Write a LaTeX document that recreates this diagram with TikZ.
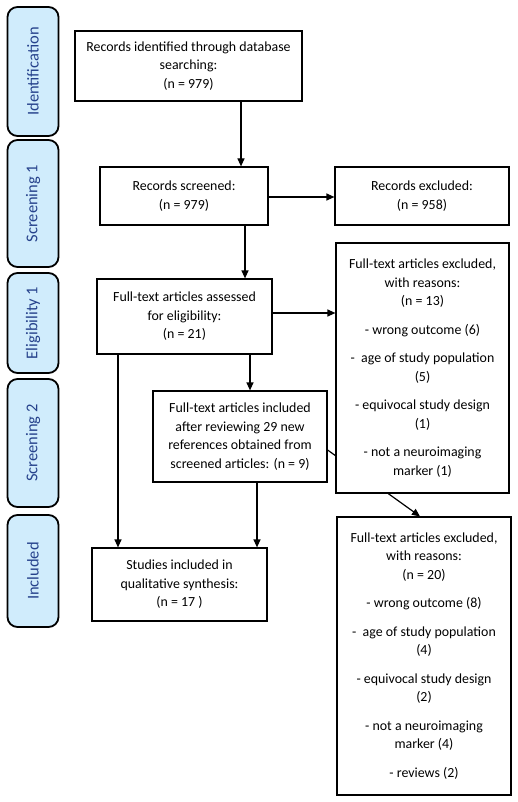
\documentclass[tikz,border=0pt]{standalone}
\usepackage{fontspec}
\setmainfont{Carlito}
\usetikzlibrary{arrows.meta}
\definecolor{lblfill}{RGB}{208,236,252}
\definecolor{lbltext}{RGB}{38,66,140}
\tikzset{
  box/.style={draw=black, line width=1.2pt, fill=white, inner sep=0pt, align=center,
    font=\fontsize{13.9}{18.5}\selectfont},
  stage/.style={draw=black, line width=1.8pt, fill=lblfill, rounded corners=10pt, rotate=90,
    minimum height=51pt, inner sep=0pt, text=lbltext, font=\fontsize{16.5}{19}\selectfont},
  arr/.style={line width=1.2pt, -{Triangle[length=8pt,width=7pt]}},
}
\begin{document}
\begin{tikzpicture}[x=1pt,y=-1pt]
\useasboundingbox (0,0) rectangle (517,802);
% stage labels
\node[stage, minimum width=129pt] (sIdent) at (33,71.5) {Identification};
\node[stage, minimum width=127pt] (sScr1) at (33,203.5) {Screening 1};
\node[stage, minimum width=100pt] (sElig) at (33,323) {Eligibility 1};
\node[stage, minimum width=128pt] (sScr2) at (33,443) {Screening 2};
\node[stage, minimum width=112pt] (sIncl) at (33,571) {Included};
% boxes
\node[box, minimum width=227pt, minimum height=70pt] (ident) at (188.5,66)
  {Records identified through database\\searching:\\(n = 979)};
\node[box, minimum width=168pt, minimum height=58pt] (screened) at (184,196)
  {Records screened:\\(n = 979)};
\node[box, minimum width=174pt, minimum height=58pt] (excluded) at (422,196)
  {Records excluded:\\(n = 958)};
\node[box, minimum width=175pt, minimum height=75pt] (assessed) at (184.5,316.5)
  {Full-text articles assessed\\for eligibility:\\(n = 21)};
\node[box, minimum width=174pt, minimum height=91pt] (inc9) at (240,436.5)
  {Full-text articles included\\after reviewing 29 new\\references obtained from\\screened articles: (n = 9)};
\node[box, minimum width=175pt, minimum height=73pt] (studies) at (179.5,584.5)
  {Studies included in\\qualitative synthesis:\\(n = 17 )};
\node[box, minimum width=174pt, minimum height=278pt] (excl20) at (424,656)
  {Full-text articles excluded,\\with reasons:\\(n = 20)\\[10pt]- wrong outcome (8)\\[10pt]-\ \ age of study population\\(4)\\[10pt]- equivocal study design\\(2)\\[10pt]- not a neuroimaging\\marker (4)\\[10pt]- reviews (2)};
% line from inc9 to excl20 passes behind excl13
\draw[arr] ([yshift=-13.5pt]inc9.east) -- ([xshift=-4pt]excl20.north);
\node[box, minimum width=173pt, minimum height=250pt] (excl13) at (422.5,368)
  {Full-text articles excluded,\\with reasons:\\(n = 13)\\[10pt]- wrong outcome (6)\\[10pt]-\ \ age of study population\\(5)\\[10pt]- equivocal study design\\(1)\\[10pt]- not a neuroimaging\\marker (1)};
% arrows
\draw[arr] ([xshift=52.5pt]ident.south) -- ([xshift=52.5pt]ident.south |- screened.north);
\draw[arr] ([yshift=-1pt]screened.east) -- ([yshift=-1pt]screened.east -| excluded.west);
\draw[arr] ([xshift=61pt]screened.south) -- ([xshift=61pt]screened.south |- assessed.north);
\draw[arr] ([yshift=3.5pt]assessed.east) -- ([yshift=3.5pt]assessed.east -| excl13.west);
\draw[arr] ([xshift=65.5pt]assessed.south) -- ([xshift=65.5pt]assessed.south |- inc9.north);
\draw[arr] ([xshift=-66.5pt]assessed.south) -- ([xshift=-66.5pt]assessed.south |- studies.north);
\draw[arr] ([xshift=17pt]inc9.south) -- ([xshift=17pt]inc9.south |- studies.north);
\end{tikzpicture}
\end{document}
